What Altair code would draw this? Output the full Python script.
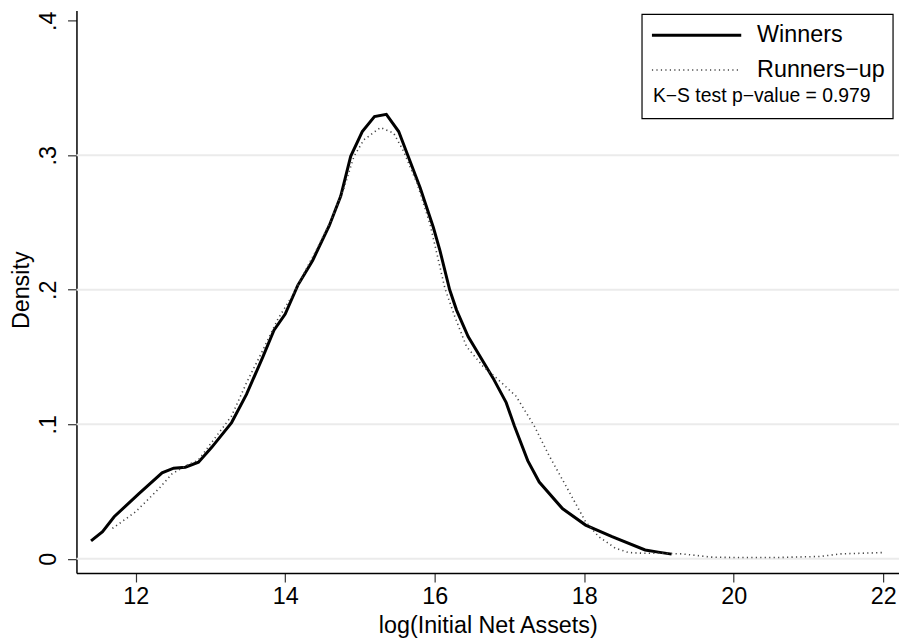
import altair as alt
import pandas as pd

# Winners density curve
win_x = [11.403, 11.557, 11.712, 12.044, 12.353, 12.508, 12.664, 12.840, 13.017, 13.283,
         13.482, 13.70, 13.85, 14.00, 14.168, 14.367, 14.589, 14.743, 14.876, 15.031,
         15.194, 15.353, 15.518, 15.628, 15.805, 15.982, 16.07, 16.20, 16.292, 16.447,
         16.779, 16.956, 17.066, 17.244, 17.398, 17.708, 18.018, 18.372, 18.814, 18.99, 19.168]
win_y = [0.0133, 0.0202, 0.0313, 0.0485, 0.0639, 0.0674, 0.0681, 0.0718, 0.0829, 0.1013,
         0.1222, 0.150, 0.170, 0.182, 0.2033, 0.2218, 0.2476, 0.2697, 0.2992, 0.3176,
         0.3287, 0.3304, 0.3176, 0.3016, 0.2758, 0.2463, 0.2291, 0.2000, 0.1849, 0.1652,
         0.1345, 0.1161, 0.0988, 0.0730, 0.0571, 0.0374, 0.0251, 0.0165, 0.0066, 0.0050, 0.0035]

# Runners-up density curve
run_x = [11.689, 12.0, 12.309, 12.486, 12.66, 12.84, 13.017, 13.283, 13.482, 13.70,
         13.90, 14.10, 14.25, 14.411, 14.610, 14.788, 14.92, 15.053, 15.274, 15.451,
         15.584, 15.761, 15.937, 16.137, 16.269, 16.425, 16.646, 16.823, 17.088, 17.331,
         17.53, 17.751, 18.018, 18.194, 18.416, 18.593, 18.77, 19.036, 19.3, 19.7,
         20.009, 20.58, 21.16, 21.425, 22.02]
run_y = [0.0226, 0.035, 0.0521, 0.0632, 0.0689, 0.0735, 0.0866, 0.1062, 0.1308, 0.155,
         0.178, 0.196, 0.212, 0.2291, 0.2513, 0.2758, 0.2992, 0.3115, 0.3206, 0.3164,
         0.3029, 0.2795, 0.2488, 0.2009, 0.1800, 0.1578, 0.1431, 0.1345, 0.1209, 0.0988,
         0.0767, 0.0546, 0.0276, 0.0165, 0.0079, 0.0047, 0.0042, 0.0042, 0.0037, 0.0013,
         0.0010, 0.0010, 0.0018, 0.0037, 0.0047]

x_ticks = [12, 14, 16, 18, 20, 22]
y_ticks = [0, 0.1, 0.2, 0.3, 0.4]
grid_vals = [0, 0.1, 0.2, 0.3]
series_names = ["Winners", "Runners\u2212up"]
ks_text = "K\u2212S test p\u2212value = 0.979"

W, H = 829, 567
FONT = "Liberation Sans"
FS = 23.5

df = pd.concat([
    pd.DataFrame({"x": win_x, "y": win_y, "s": series_names[0]}),
    pd.DataFrame({"x": run_x, "y": run_y, "s": series_names[1]}),
])

xs = alt.Scale(domain=[11.208, 22.21], nice=False, zero=False)
ys = alt.Scale(domain=[-0.01055, 0.4076], nice=False, zero=False)

xaxis = alt.Axis(values=x_ticks, format="d", title="log(Initial Net Assets)", grid=False,
                 labelFont=FONT, labelFontSize=FS, labelColor="black", labelPadding=3,
                 labelFlush=False, labelOverlap=False,
                 tickSize=9, tickColor="#333333", tickWidth=1.2,
                 domainColor="black", domainWidth=1.5,
                 titleFont=FONT, titleFontSize=FS, titleFontWeight="normal", titleColor="black",
                 titleX=W / 2, titleY=60, titleBaseline="alphabetic", titleAlign="center")
yaxis = alt.Axis(values=y_ticks, title="Density", grid=False,
                 labelExpr="datum.value == 0 ? '0' : replace(format(datum.value, '.1f'), '0.', '.')",
                 labelFont=FONT, labelFontSize=FS, labelColor="black", labelAngle=270,
                 labelAlign="center", labelBaseline="alphabetic", labelPadding=12,
                 labelFlush=False, labelOverlap=False,
                 tickSize=9, tickColor="#333333", tickWidth=1.2,
                 domainColor="black", domainWidth=1.5,
                 titleFont=FONT, titleFontSize=FS, titleFontWeight="normal", titleColor="black",
                 titleAngle=270, titleX=-48, titleY=H / 2 - 2, titleBaseline="alphabetic",
                 titleAlign="center")

grid = alt.Chart(pd.DataFrame({"g": grid_vals})).mark_rule(color="#ebebeb", strokeWidth=2).encode(
    y=alt.Y("g:Q", scale=ys, axis=yaxis),
    x=alt.value(0), x2=alt.value(W),
)

win = alt.Chart(df[df.s == series_names[0]]).mark_line(color="black", strokeWidth=3).encode(
    x=alt.X("x:Q", scale=xs, axis=xaxis),
    y=alt.Y("y:Q", scale=ys),
)
run = alt.Chart(df[df.s == series_names[1]]).mark_line(
    color="#444444", strokeWidth=1.6, strokeDash=[1.2, 3.3]).encode(
    x=alt.X("x:Q", scale=xs),
    y=alt.Y("y:Q", scale=ys),
)

one = pd.DataFrame({"a": [0]})
# legend box
box = alt.Chart(one).mark_rect(fill="white", stroke="black", strokeWidth=1.2).encode(
    x=alt.value(570), x2=alt.value(823), y=alt.value(4), y2=alt.value(109))
leg_line1 = alt.Chart(one).mark_rule(color="black", strokeWidth=3).encode(
    x=alt.value(580), x2=alt.value(670), y=alt.value(25))
leg_line2 = alt.Chart(one).mark_rule(
    color="#444444", strokeWidth=1.6, strokeDash=[1.2, 3.3]).encode(
    x=alt.value(580), x2=alt.value(670), y=alt.value(60))
leg_txt1 = alt.Chart(pd.DataFrame({"t": [series_names[0]]})).mark_text(
    font=FONT, fontSize=FS, align="left", baseline="middle", color="black").encode(
    x=alt.value(686), y=alt.value(25), text="t:N")
leg_txt2 = alt.Chart(pd.DataFrame({"t": [series_names[1]]})).mark_text(
    font=FONT, fontSize=FS, align="left", baseline="middle", color="black").encode(
    x=alt.value(686), y=alt.value(60), text="t:N")
ks = alt.Chart(pd.DataFrame({"t": [ks_text]})).mark_text(
    font=FONT, fontSize=19.5, align="left", baseline="middle", color="black").encode(
    x=alt.value(581), y=alt.value(86), text="t:N")

chart = alt.layer(grid, win, run, box, leg_line1, leg_line2, leg_txt1, leg_txt2, ks).properties(
    width=W, height=H,
    autosize=alt.AutoSizeParams(type="none"),
    padding={"left": 69, "top": 0, "right": 0, "bottom": 66},
    background="white",
).configure_view(stroke=None)

chart.save("out.html", embed_options={"renderer": "svg", "actions": False})
